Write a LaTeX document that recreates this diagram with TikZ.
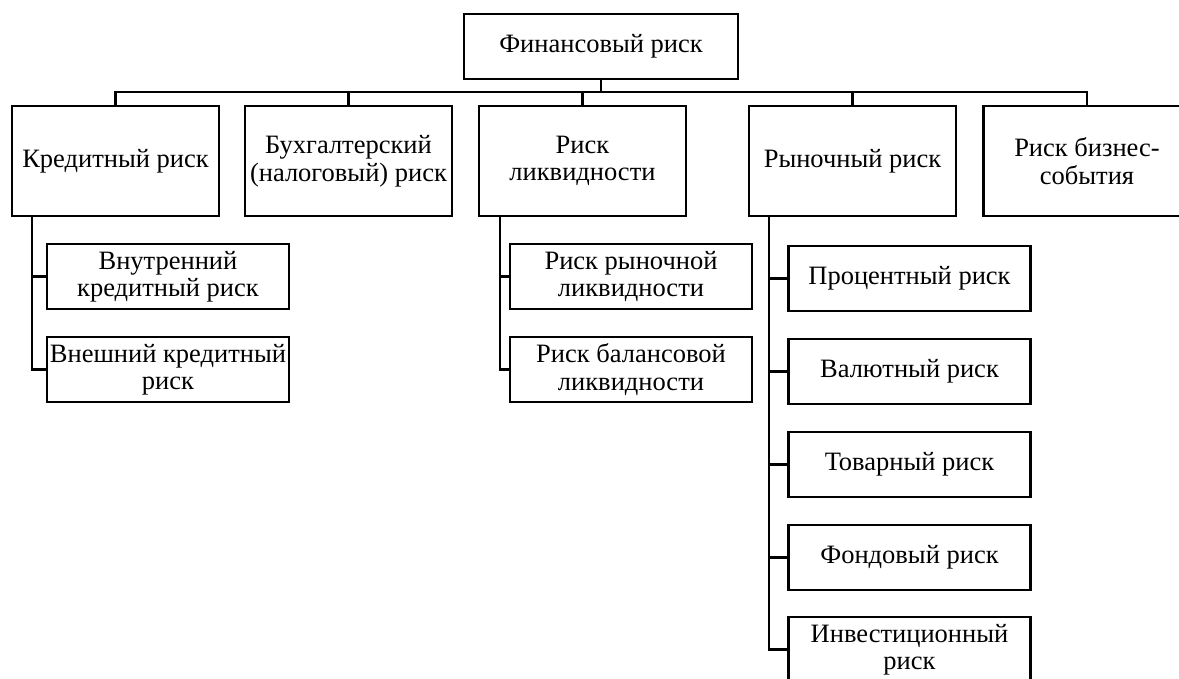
\documentclass[tikz,border=0pt]{standalone}
\usepackage{fontspec}
\setmainfont{Liberation Serif}
\begin{document}
\begin{tikzpicture}[x=1pt,y=-1pt,
  box/.style={draw, line width=2.2pt, align=center, inner sep=0pt,
    font=\fontsize{26.5}{27.5}\selectfont},
  top/.style={box, minimum width=274pt, minimum height=65pt},
  main/.style={box, minimum width=207pt, minimum height=110pt},
  sub/.style={box, minimum width=242pt, minimum height=65pt},
  conn/.style={line width=2.2pt}]
\useasboundingbox (0,0) rectangle (1179,678);
\node[top] (fin) at (601,46.5) {Финансовый риск};
\node[main] (kr) at (115.5,161) {Кредитный риск};
\node[main] (bux) at (348.5,161) {Бухгалтерский\\(налоговый) риск};
\node[main] (likv) at (582.5,161) {Риск\\ликвидности};
\node[main] (ryn) at (852.5,161) {Рыночный риск};
\node[main] (biz) at (1087,161) {Риск бизнес-\\события};
\node[sub] (kr1) at (168,276.5) {Внутренний\\кредитный риск};
\node[sub] (kr2) at (168,369.5) {Внешний кредитный\\риск};
\node[sub] (lq1) at (631,276.5) {Риск рыночной\\ликвидности};
\node[sub] (lq2) at (631,369.5) {Риск балансовой\\ликвидности};
\node[sub] (r1) at (909.5,278.5) {Процентный риск};
\node[sub] (r2) at (909.5,371.5) {Валютный риск};
\node[sub] (r3) at (909.5,464.5) {Товарный риск};
\node[sub] (r4) at (909.5,557.5) {Фондовый риск};
\node[sub] (r5) at (909.5,649.5) {Инвестиционный\\риск};
\coordinate (bus) at (0,92);
\draw[conn] (fin.south) -- (fin.south |- bus);
\draw[conn] (kr.north) -- (kr.north |- bus) -- (biz.north |- bus) -- (biz.north);
\draw[conn] (bux.north) -- (bux.north |- bus);
\draw[conn] (likv.north) -- (likv.north |- bus);
\draw[conn] (ryn.north) -- (ryn.north |- bus);
\coordinate (krv) at ([xshift=21pt]kr.south west);
\coordinate (lqv) at ([xshift=22pt]likv.south west);
\coordinate (rnv) at ([xshift=21pt]ryn.south west);
\draw[conn] (krv) |- (kr2.west);
\draw[conn] (kr1.west) -- (kr1.west -| krv);
\draw[conn] (lqv) |- (lq2.west);
\draw[conn] (lq1.west) -- (lq1.west -| lqv);
\draw[conn] (rnv) |- (r5.west);
\foreach \n in {r1,r2,r3,r4} \draw[conn] (\n.west) -- (\n.west -| rnv);
\end{tikzpicture}
\end{document}
